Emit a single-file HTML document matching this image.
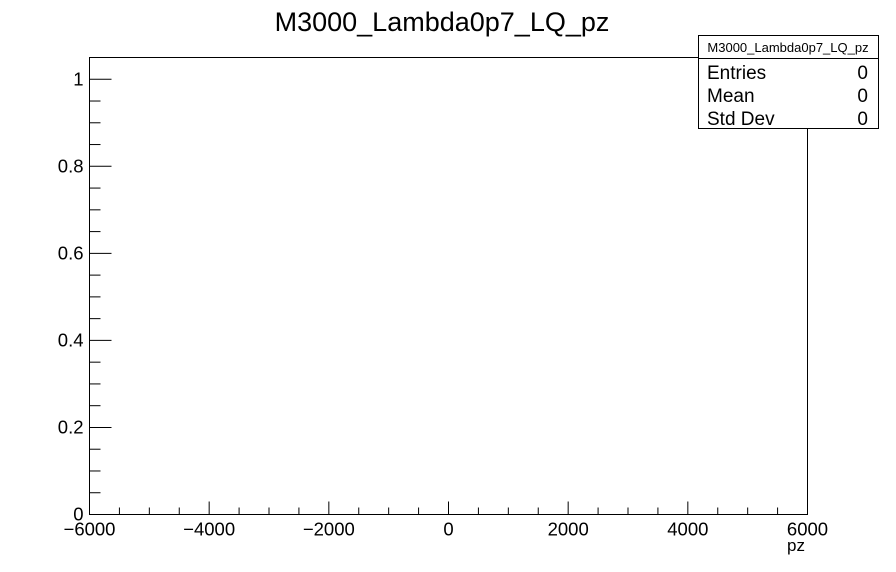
<!DOCTYPE html>
<html><head><meta charset="utf-8"><style>
html,body{margin:0;padding:0;background:#fff;}
svg{display:block;font-family:"Liberation Sans",Arial,sans-serif;}
</style></head><body>
<svg id="c" width="896" height="572" viewBox="0 0 896 572">
<rect width="896" height="572" fill="#fff"/>
<text x="442" y="31" font-size="27" text-anchor="middle">M3000_Lambda0p7_LQ_pz</text>
<rect x="89.5" y="57.5" width="718" height="457" fill="none" stroke="#000" stroke-width="1"/>
<g id="axes"></g>
<text x="805" y="551" font-size="17" text-anchor="end">pz</text>
<g>
<rect x="698.5" y="35.5" width="180" height="93" fill="#fff" stroke="#000"/>
<line x1="698.5" y1="58.5" x2="878.5" y2="58.5" stroke="#000"/>
<text x="788" y="52" font-size="13" text-anchor="middle">M3000_Lambda0p7_LQ_pz</text>
<text x="707" y="79" font-size="19">Entries</text>
<text x="868" y="79" font-size="19" text-anchor="end">0</text>
<text x="707" y="102" font-size="19">Mean</text>
<text x="868" y="102" font-size="19" text-anchor="end">0</text>
<text x="707" y="125" font-size="19">Std Dev</text>
<text x="868" y="125" font-size="19" text-anchor="end">0</text>
</g>
</svg>
<script>
const xTicks = [-6000,-4000,-2000,0,2000,4000,6000];
const xTickLabels = ["\u22126000","\u22124000","\u22122000","0","2000","4000","6000"];
const yTicks = [0,0.2,0.4,0.6,0.8,1];
const yTickLabels = ["0","0.2","0.4","0.6","0.8","1"];
const xDomain = [-6000,6000];
const yDomain = [0,1.05];
const L=89.5,R=807.5,T=57.5,B=514.5;
const sx=v=>L+(v-xDomain[0])/(xDomain[1]-xDomain[0])*(R-L);
const sy=v=>B-(v-yDomain[0])/(yDomain[1]-yDomain[0])*(B-T);
const g=document.getElementById('axes');
const NS='http://www.w3.org/2000/svg';
function ln(x1,y1,x2,y2,name){const e=document.createElementNS(NS,'line');
e.setAttribute('x1',x1);e.setAttribute('y1',y1);e.setAttribute('x2',x2);e.setAttribute('y2',y2);e.setAttribute('stroke','#000');


g.appendChild(e);}
function tx(x,y,s,anchor,name){const e=document.createElementNS(NS,'text');
e.setAttribute('x',x);e.setAttribute('y',y);e.setAttribute('font-size','18.5');e.setAttribute('text-anchor',anchor);e.textContent=s;


g.appendChild(e);}
const xStep=xTicks[1]-xTicks[0], xMinor=xStep/4;
for(let v=xDomain[0];v<=xDomain[1]+1e-6;v+=xMinor){
  const major=xTicks.some(t=>Math.abs(t-v)<1e-6);
  ln(sx(v),B,sx(v),B-(major?13:7),major?'x-major-tick':'x-minor-tick');
}
xTicks.forEach((v,i)=>tx(sx(v),B+21,xTickLabels[i],'middle','x-tick-label'));
const yStep=yTicks[1]-yTicks[0], yMinor=yStep/4;
for(let v=yDomain[0];v<=yDomain[1]+1e-9;v+=yMinor){
  const major=yTicks.some(t=>Math.abs(t-v)<1e-6);
  ln(L,sy(v),L+(major?22:11),sy(v),major?'y-major-tick':'y-minor-tick');
}
yTicks.forEach((v,i)=>tx(L-6,sy(v)+6,yTickLabels[i],'end','y-tick-label'));
</script>
</body></html>
